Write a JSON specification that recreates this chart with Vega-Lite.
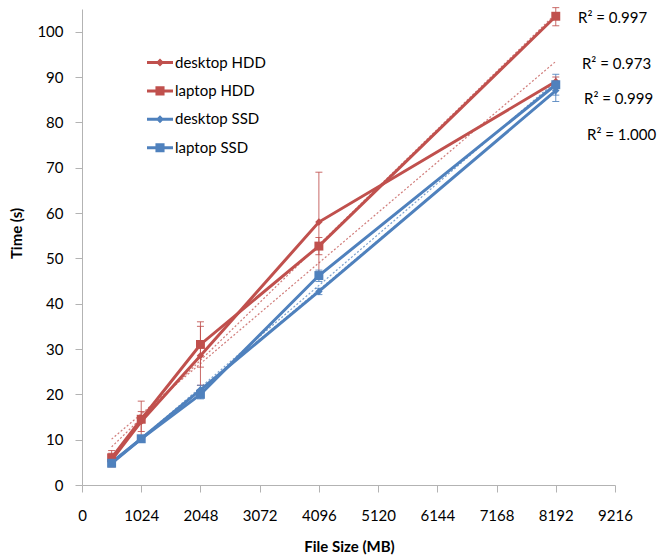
{
  "$schema": "https://vega.github.io/schema/vega-lite/v6.json",
  "width": 533,
  "height": 476,
  "autosize": {"type": "none"},
  "padding": {"left": 82, "top": 9, "right": 47, "bottom": 74},
  "background": "white",
  "config": {
    "font": "Lato",
    "view": {"stroke": null},
    "axis": {
      "grid": false,
      "domainColor": "#b3b3b3",
      "tickColor": "#b3b3b3",
      "tickSize": 7,
      "labelFont": "Lato",
      "labelFontSize": 15,
      "labelColor": "#000",
      "labelFlush": false,
      "labelOverlap": false,
      "titleFont": "Lato",
      "titleFontSize": 15,
      "titleColor": "#000",
      "titleFontWeight": "bold"
    }
  },
  "datasets": {
    "pts": [
      {"series": "desktop HDD", "size": 512, "time": 5.5, "lo": 4.0, "hi": 7.0},
      {"series": "desktop HDD", "size": 1024, "time": 14.0, "lo": 11.8, "hi": 16.2},
      {"series": "desktop HDD", "size": 2048, "time": 28.5, "lo": 22.0, "hi": 35.0},
      {"series": "desktop HDD", "size": 4096, "time": 58.0, "lo": 47.0, "hi": 69.0},
      {"series": "desktop HDD", "size": 8192, "time": 89.0, "lo": 88.0, "hi": 90.0},
      {"series": "laptop HDD", "size": 512, "time": 6.0, "lo": 4.5, "hi": 7.6},
      {"series": "laptop HDD", "size": 1024, "time": 14.5, "lo": 10.5, "hi": 18.5},
      {"series": "laptop HDD", "size": 2048, "time": 31.0, "lo": 26.0, "hi": 36.0},
      {"series": "laptop HDD", "size": 4096, "time": 52.7, "lo": 50.8, "hi": 54.6},
      {"series": "laptop HDD", "size": 8192, "time": 103.4, "lo": 101.3, "hi": 105.3},
      {"series": "desktop SSD", "size": 512, "time": 5.0, "lo": 4.5, "hi": 5.5},
      {"series": "desktop SSD", "size": 1024, "time": 10.2, "lo": 9.8, "hi": 10.6},
      {"series": "desktop SSD", "size": 2048, "time": 21.0, "lo": 20.0, "hi": 22.0},
      {"series": "desktop SSD", "size": 4096, "time": 42.7, "lo": 42.0, "hi": 43.4},
      {"series": "desktop SSD", "size": 8192, "time": 87.0, "lo": 86.0, "hi": 88.0},
      {"series": "laptop SSD", "size": 512, "time": 4.8, "lo": 4.3, "hi": 5.3},
      {"series": "laptop SSD", "size": 1024, "time": 10.2, "lo": 9.7, "hi": 10.7},
      {"series": "laptop SSD", "size": 2048, "time": 20.0, "lo": 19.0, "hi": 21.0},
      {"series": "laptop SSD", "size": 4096, "time": 46.2, "lo": 44.9, "hi": 47.4},
      {"series": "laptop SSD", "size": 8192, "time": 88.3, "lo": 84.6, "hi": 90.6}
    ],
    "r2": [
      {"label": "R² = 0.997", "rx": 8576, "ry": 103.0},
      {"label": "R² = 0.973", "rx": 8645, "ry": 92.9},
      {"label": "R² = 0.999", "rx": 8680, "ry": 85.2},
      {"label": "R² = 1.000", "rx": 8732, "ry": 77.2}
    ]
  },
  "layer": [
    {
      "data": {"name": "pts"},
      "transform": [
        {"regression": "time", "on": "size", "groupby": ["series"], "extent": [512, 8192]}
      ],
      "mark": {"type": "line", "strokeWidth": 1.2, "strokeDash": [2, 2], "opacity": 0.75},
      "encoding": {
        "x": {"field": "size", "type": "quantitative", "scale": {"domain": [0, 9216], "nice": false, "zero": false},
          "axis": {"title": "File Size (MB)", "format": "d", "values": [0, 1024, 2048, 3072, 4096, 5120, 6144, 7168, 8192, 9216], "labelPadding": 16, "titleX": 267, "titleY": 61, "titleBaseline": "middle"}},
        "y": {"field": "time", "type": "quantitative", "scale": {"domain": [0, 105], "nice": false},
          "axis": {"title": "Time (s)", "format": "d", "values": [0, 10, 20, 30, 40, 50, 60, 70, 80, 90, 100], "labelPadding": 12, "titleX": -66, "titleY": 224, "titleAngle": -90, "titleBaseline": "middle", "titleAlign": "center"}},
        "color": {"field": "series", "type": "nominal", "scale": {"domain": ["desktop HDD", "laptop HDD", "desktop SSD", "laptop SSD"], "range": ["#C0504D", "#C0504D", "#4F81BD", "#4F81BD"]}}
      }
    },
    {
      "data": {"name": "pts"},
      "mark": {"type": "rule", "strokeWidth": 1, "opacity": 0.85},
      "encoding": {
        "x": {"field": "size", "type": "quantitative"},
        "y": {"field": "lo", "type": "quantitative"},
        "y2": {"field": "hi"},
        "color": {"field": "series", "type": "nominal"}
      }
    },
    {
      "data": {"name": "pts"},
      "mark": {"type": "tick", "orient": "horizontal", "thickness": 1, "size": 7, "opacity": 0.85},
      "encoding": {
        "x": {"field": "size", "type": "quantitative"},
        "y": {"field": "lo", "type": "quantitative"},
        "color": {"field": "series", "type": "nominal"}
      }
    },
    {
      "data": {"name": "pts"},
      "mark": {"type": "tick", "orient": "horizontal", "thickness": 1, "size": 7, "opacity": 0.85},
      "encoding": {
        "x": {"field": "size", "type": "quantitative"},
        "y": {"field": "hi", "type": "quantitative"},
        "color": {"field": "series", "type": "nominal"}
      }
    },
    {
      "data": {"name": "pts"},
      "mark": {"type": "line", "strokeWidth": 3},
      "encoding": {
        "x": {"field": "size", "type": "quantitative"},
        "y": {"field": "time", "type": "quantitative"},
        "color": {"field": "series", "type": "nominal"}
      }
    },
    {
      "data": {"name": "pts"},
      "transform": [{"filter": "indexof(datum.series, 'desktop') == 0"}],
      "mark": {"type": "point", "shape": "diamond", "filled": true, "size": 55, "opacity": 1},
      "encoding": {
        "x": {"field": "size", "type": "quantitative"},
        "y": {"field": "time", "type": "quantitative"},
        "color": {"field": "series", "type": "nominal"}
      }
    },
    {
      "data": {"name": "pts"},
      "transform": [{"filter": "indexof(datum.series, 'laptop') == 0"}],
      "mark": {"type": "point", "shape": "square", "filled": true, "size": 80, "opacity": 1},
      "encoding": {
        "x": {"field": "size", "type": "quantitative"},
        "y": {"field": "time", "type": "quantitative"},
        "color": {"field": "series", "type": "nominal"}
      }
    },
    {
      "data": {"name": "pts"},
      "mark": {"type": "point", "filled": true, "opacity": 0},
      "encoding": {
        "x": {"field": "size", "type": "quantitative"},
        "y": {"field": "time", "type": "quantitative"},
        "color": {"field": "series", "type": "nominal",
          "legend": {"orient": "none", "legendX": 65, "legendY": 40.5, "title": null, "symbolSize": 676, "labelFontSize": 15, "labelFont": "Lato", "labelColor": "#000", "rowPadding": 7.4, "labelOffset": 2, "symbolStrokeWidth": 0, "symbolOpacity": 1, "padding": 0,
            "encode": {"symbols": {"update": {"opacity": {"value": 1}, "fillOpacity": {"value": 1}}}}}},
        "shape": {"field": "series", "type": "nominal",
          "scale": {"domain": ["desktop HDD", "laptop HDD", "desktop SSD", "laptop SSD"],
            "range": [
              "M-1,-0.115H1V0.115H-1Z M0,-0.31L0.31,0L0,0.31L-0.31,0Z",
              "M-1,-0.115H1V0.115H-1Z M-0.35,-0.35H0.35V0.35H-0.35Z",
              "M-1,-0.115H1V0.115H-1Z M0,-0.31L0.31,0L0,0.31L-0.31,0Z",
              "M-1,-0.115H1V0.115H-1Z M-0.35,-0.35H0.35V0.35H-0.35Z"
            ]},
          "legend": {"orient": "none", "legendX": 65, "legendY": 40.5, "title": null, "symbolSize": 676, "labelFontSize": 15, "labelFont": "Lato", "labelColor": "#000", "rowPadding": 7.4, "labelOffset": 2, "symbolStrokeWidth": 0, "symbolOpacity": 1, "padding": 0,
            "encode": {"symbols": {"update": {"opacity": {"value": 1}, "fillOpacity": {"value": 1}}}}}}
      }
    },
    {
      "data": {"name": "r2"},
      "mark": {"type": "text", "align": "left", "baseline": "middle", "fontSize": 15, "font": "Lato", "color": "#000"},
      "encoding": {
        "x": {"field": "rx", "type": "quantitative"},
        "y": {"field": "ry", "type": "quantitative"},
        "text": {"field": "label"}
      }
    }
  ]
}
